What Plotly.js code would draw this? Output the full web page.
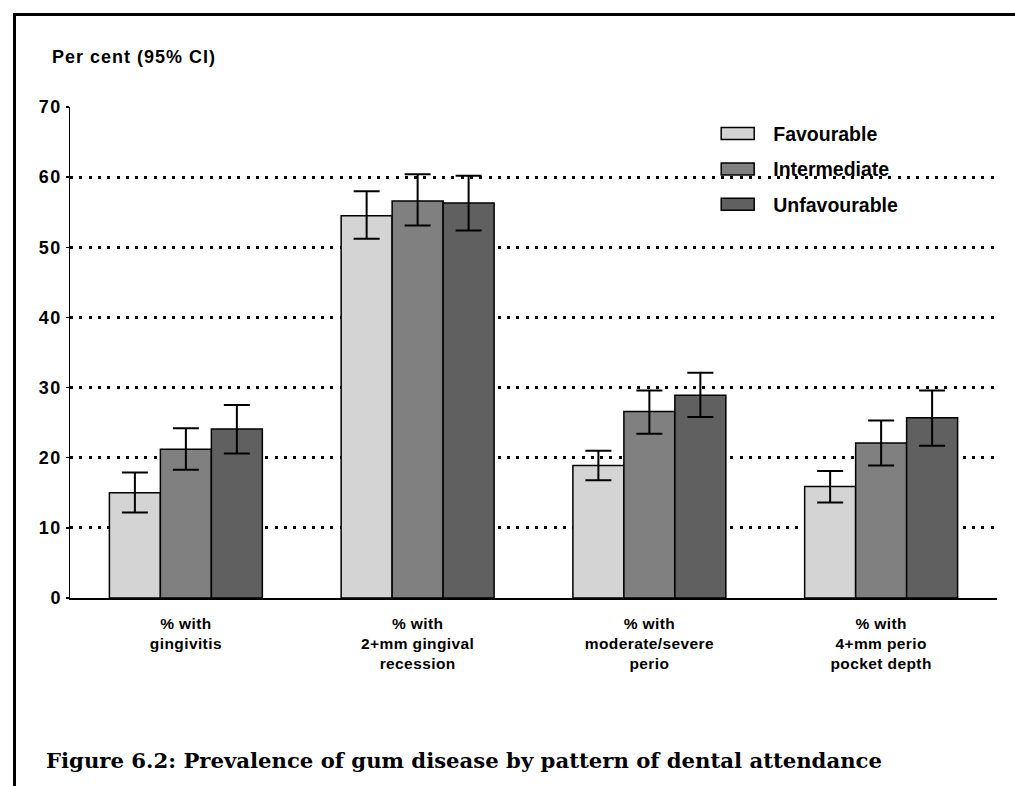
<!DOCTYPE html>
<html>
<head>
<meta charset="utf-8">
<script src="https://cdn.plot.ly/plotly-3.0.1.min.js"></script>
<style>
  html, body { margin: 0; padding: 0; background: #fff; }
  #wrap { position: relative; width: 1015px; height: 786px; }
  #chart { position: absolute; left: 0; top: 0; width: 1015px; height: 786px; }
  #frame { position: absolute; left: 13px; top: 13px; width: 1002px; height: 773px;
           border-top: 3px solid #000; border-left: 3px solid #000; box-sizing: border-box;
           pointer-events: none; }
  #chart .ytick text { letter-spacing: 1.5px; }
  #chart .xtick text { letter-spacing: 0.4px; }
</style>
</head>
<body>
<div id="wrap">
  <div id="chart"></div>
  <div id="frame"></div>
</div>
<script>
// ---- data ----
const categories = [
  "% with<br>gingivitis",
  "% with<br>2+mm gingival<br>recession",
  "% with<br>moderate/severe<br>perio",
  "% with<br>4+mm perio<br>pocket depth"
];
const seriesNames = ["Favourable", "Intermediate", "Unfavourable"];
const favourable   = [15.0, 54.5, 18.9, 15.9];
const favourableLo = [12.2, 51.2, 16.8, 13.6];
const favourableHi = [17.9, 58.0, 21.0, 18.1];
const intermediate   = [21.2, 56.6, 26.6, 22.1];
const intermediateLo = [18.3, 53.1, 23.4, 18.9];
const intermediateHi = [24.2, 60.4, 29.6, 25.3];
const unfavourable   = [24.1, 56.3, 28.9, 25.7];
const unfavourableLo = [20.6, 52.4, 25.8, 21.7];
const unfavourableHi = [27.5, 60.2, 32.1, 29.6];
const yTicks = [0, 10, 20, 30, 40, 50, 60, 70];
const colors = ["#d4d4d4", "#808080", "#606060"];

function makeTrace(name, vals, lo, hi, color, group) {
  return {
    type: "bar",
    name: name,
    x: categories,
    y: vals,
    legendgroup: group,
    marker: { color: color, line: { color: "#000", width: 1.5 } },
    error_y: {
      type: "data",
      symmetric: false,
      array: hi.map((h, i) => h - vals[i]),
      arrayminus: vals.map((v, i) => v - lo[i]),
      color: "#000",
      thickness: 2,
      width: 13
    }
  };
}

const data = [
  makeTrace(seriesNames[0], favourable, favourableLo, favourableHi, colors[0], "a"),
  makeTrace(seriesNames[1], intermediate, intermediateLo, intermediateHi, colors[1], "b"),
  makeTrace(seriesNames[2], unfavourable, unfavourableLo, unfavourableHi, colors[2], "c")
];

const boldFont = "Arial, 'Liberation Sans', sans-serif";

const layout = {
  width: 1015,
  height: 786,
  margin: { l: 70, r: 18, t: 107, b: 188 },
  paper_bgcolor: "#fff",
  plot_bgcolor: "#fff",
  barmode: "group",
  bargap: 0.34,
  bargroupgap: 0,
  showlegend: true,
  legend: {
    x: 0.682, xanchor: "left",
    y: 0.985, yanchor: "top",
    bgcolor: "rgba(0,0,0,0)",
    font: { family: boldFont, size: 19.5, color: "#000", weight: "bold" },
    traceorder: "grouped",
    tracegroupgap: 7,
    itemwidth: 61
  },
  xaxis: {
    showline: true, linecolor: "#000", linewidth: 1.5,
    ticks: "", showgrid: false, zeroline: false,
    tickfont: { family: boldFont, size: 15.5, color: "#000", weight: "bold" },
    ticklabelstandoff: 11
  },
  yaxis: {
    range: [0, 70],
    tickvals: yTicks,
    ticktext: yTicks.map(String),
    showline: true, linecolor: "#000", linewidth: 1.5,
    ticks: "outside", ticklen: 3, tickwidth: 1.5, tickcolor: "#000",
    showgrid: true, gridcolor: "#000", gridwidth: 3, griddash: "3px,6.3px",
    zeroline: false,
    tickfont: { family: boldFont, size: 18, color: "#000", weight: "bold" },
    ticklabelstandoff: 0
  },
  annotations: [
    {
      text: "<b><span style=\"letter-spacing:1px\">Per cent (95% CI)</span></b>",
      xref: "paper", yref: "paper",
      x: (50 - 70) / 927, y: (598 - 57) / 491,
      xanchor: "left", yanchor: "middle",
      showarrow: false,
      font: { family: boldFont, size: 18, color: "#000" }
    },
    {
      text: "<b>Figure 6.2: Prevalence of gum disease by pattern of dental attendance</b>",
      xref: "paper", yref: "paper",
      x: (44 - 70) / 927, y: (598 - 760) / 491,
      xanchor: "left", yanchor: "middle",
      showarrow: false,
      font: { family: "'DejaVu Serif', 'Liberation Serif', serif", size: 21.2, color: "#000" }
    }
  ]
};

Plotly.newPlot("chart", data, layout, { staticPlot: true, displayModeBar: false }).then(function (gd) {
  // widen the legend swatches into flat rectangles like the original
  gd.querySelectorAll(".legendpoints path").forEach(function (p) {
    p.setAttribute("d", "M-16.5,6H16.5V-6H-16.5Z");
  });
});
</script>
</body>
</html>
